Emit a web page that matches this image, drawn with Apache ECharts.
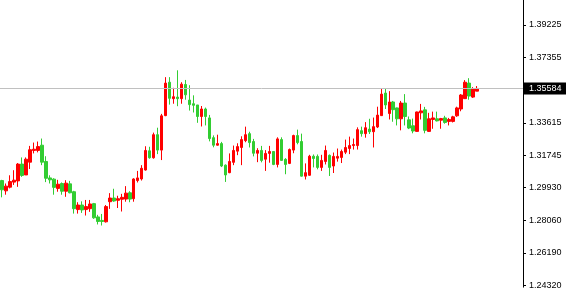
<!DOCTYPE html>
<html>
<head>
<meta charset="utf-8">
<script src="https://cdn.jsdelivr.net/npm/echarts@6/dist/echarts.min.js"></script>
<style>
html,body{margin:0;padding:0;background:#fff;}
#chart{width:566px;height:290px;}
</style>
</head>
<body>
<div id="chart"></div>
<script>
var opens = [1.3032,1.2973,1.2994,1.3023,1.3030,1.3126,1.3064,1.3137,1.3204,1.3204,
1.3234,1.3141,1.3047,1.3040,1.2987,1.3015,1.2971,1.3013,1.2968,1.2866,
1.2892,1.2866,1.2871,1.2900,1.2824,1.2804,1.2796,1.2911,1.2932,1.2919,
1.2925,1.2926,1.2962,1.2928,1.3032,1.3041,1.3092,1.3202,1.3162,1.3294,
1.3206,1.3403,1.3594,1.3500,1.3509,1.3500,1.3581,1.3492,1.3471,1.3464,
1.3398,1.3441,1.3390,1.3277,1.3234,1.3243,1.3120,1.3077,1.3136,1.3200,
1.3221,1.3260,1.3300,1.3255,1.3188,1.3204,1.3154,1.3187,1.3198,1.3124,
1.3266,1.3153,1.3130,1.3206,1.3289,1.3255,1.3057,1.3062,1.3171,1.3170,
1.3107,1.3141,1.3176,1.3115,1.3160,1.3164,1.3194,1.3215,1.3232,1.3232,
1.3317,1.3300,1.3326,1.3311,1.3338,1.3403,1.3532,1.3415,1.3481,1.3447,
1.3385,1.3475,1.3379,1.3345,1.3313,1.3419,1.3436,1.3313,1.3381,1.3385,
1.3377,1.3390,1.3370,1.3370,1.3402,1.3441,1.3500,1.3589,1.3509,1.3543];
var closes = [1.2979,1.3000,1.3026,1.3034,1.3126,1.3061,1.3154,1.3208,1.3211,1.3226,
1.3137,1.3045,1.3036,1.2993,1.3011,1.2971,1.3017,1.2962,1.2871,1.2892,
1.2864,1.2883,1.2898,1.2819,1.2798,1.2798,1.2883,1.2932,1.2915,1.2928,
1.2936,1.2960,1.2926,1.3041,1.3047,1.3102,1.3204,1.3162,1.3294,1.3206,
1.3402,1.3589,1.3502,1.3511,1.3500,1.3583,1.3522,1.3466,1.3462,1.3398,
1.3441,1.3398,1.3272,1.3234,1.3243,1.3115,1.3064,1.3141,1.3204,1.3226,
1.3266,1.3294,1.3249,1.3188,1.3204,1.3147,1.3187,1.3198,1.3124,1.3270,
1.3147,1.3124,1.3209,1.3289,1.3249,1.3057,1.3077,1.3171,1.3158,1.3107,
1.3147,1.3204,1.3107,1.3170,1.3170,1.3198,1.3221,1.3232,1.3238,1.3323,
1.3300,1.3334,1.3311,1.3340,1.3406,1.3526,1.3464,1.3481,1.3437,1.3385,
1.3475,1.3398,1.3332,1.3315,1.3424,1.3430,1.3319,1.3385,1.3390,1.3373,
1.3386,1.3364,1.3381,1.3396,1.3447,1.3521,1.3594,1.3515,1.3555,1.35584];
var lows = [1.2936,1.2951,1.2987,1.3007,1.2996,1.3053,1.3064,1.3098,1.3187,1.3193,
1.3120,1.3023,1.3015,1.2951,1.2968,1.2951,1.2939,1.2959,1.2843,1.2843,
1.2847,1.2832,1.2853,1.2813,1.2781,1.2775,1.2792,1.2870,1.2911,1.2875,
1.2855,1.2911,1.2908,1.2911,1.3021,1.3032,1.3089,1.3157,1.3157,1.3183,
1.3149,1.3400,1.3466,1.3471,1.3457,1.3471,1.3494,1.3432,1.3421,1.3362,
1.3341,1.3347,1.3256,1.3222,1.3232,1.3109,1.3024,1.3074,1.3120,1.3177,
1.3120,1.3251,1.3221,1.3170,1.3137,1.3136,1.3087,1.3134,1.3120,1.3107,
1.3145,1.3068,1.3126,1.3188,1.3239,1.3055,1.3038,1.3060,1.3107,1.3096,
1.3087,1.3124,1.3058,1.3075,1.3140,1.3132,1.3183,1.3183,1.3209,1.3209,
1.3283,1.3277,1.3298,1.3221,1.3332,1.3402,1.3441,1.3381,1.3368,1.3347,
1.3319,1.3347,1.3326,1.3302,1.3311,1.3381,1.3302,1.3310,1.3328,1.3370,
1.3328,1.3357,1.3347,1.3364,1.3396,1.3428,1.3498,1.3494,1.3504,1.3543];
var highs = [1.3036,1.3015,1.3062,1.3091,1.3132,1.3164,1.3164,1.3230,1.3249,1.3255,
1.3272,1.3171,1.3062,1.3045,1.3036,1.3021,1.3034,1.3030,1.2973,1.2908,
1.2913,1.2921,1.2921,1.2904,1.2836,1.2841,1.2892,1.2960,1.2985,1.2945,
1.2956,1.3000,1.2971,1.3045,1.3087,1.3120,1.3228,1.3225,1.3306,1.3334,
1.3413,1.3623,1.3623,1.3562,1.3662,1.3594,1.3607,1.3577,1.3519,1.3464,
1.3458,1.3449,1.3407,1.3290,1.3294,1.3253,1.3124,1.3187,1.3232,1.3245,
1.3285,1.3340,1.3311,1.3270,1.3217,1.3230,1.3206,1.3230,1.3200,1.3279,
1.3279,1.3160,1.3215,1.3294,1.3323,1.3300,1.3130,1.3179,1.3181,1.3181,
1.3179,1.3232,1.3181,1.3192,1.3215,1.3209,1.3266,1.3283,1.3272,1.3336,
1.3340,1.3366,1.3385,1.3392,1.3454,1.3555,1.3555,1.3543,1.3487,1.3449,
1.3487,1.3526,1.3398,1.3386,1.3426,1.3470,1.3453,1.3419,1.3426,1.3426,
1.3390,1.3402,1.3390,1.3402,1.3454,1.3526,1.3606,1.3617,1.3566,1.3572];
var tickValues = [1.24320,1.26190,1.28060,1.29930,1.31745,1.33615,1.37355,1.39225];
var currentPrice = 1.35584;
var slotCount = 131;
var yMin = 1.24226, yMax = 1.40640;

var categories = [];
for (var i = 0; i < slotCount; i++) categories.push(String(i + 1));
var ohlc = opens.map(function (o, i) { return [o, closes[i], lows[i], highs[i]]; });

var chart = echarts.init(document.getElementById('chart'), null, {renderer: 'canvas'});
chart.setOption({
  animation: false,
  backgroundColor: '#ffffff',
  grid: {left: -1, right: 43, top: 0, bottom: 0, containLabel: false},
  xAxis: {
    type: 'category', data: categories, boundaryGap: true, show: false
  },
  yAxis: {
    type: 'value', position: 'right', min: yMin, max: yMax, scale: true,
    splitLine: {show: false},
    axisLine: {show: true, onZero: false, lineStyle: {color: '#000', width: 1}},
    axisTick: {show: true, length: 3, customValues: tickValues, lineStyle: {color: '#000'}},
    axisLabel: {
      customValues: tickValues, margin: 6, color: '#000', fontSize: 9,
      fontFamily: 'Liberation Sans',
      formatter: function (v) { return v.toFixed(5); }
    }
  },
  series: [{
    type: 'candlestick',
    data: ohlc,
    barWidth: 3,
    itemStyle: {
      color: '#ff0000', color0: '#32cd32',
      borderColor: '#ff0000', borderColor0: '#32cd32', borderWidth: 1
    },
    markLine: {
      silent: true, symbol: ['none', 'none'], animation: false, precision: 5,
      lineStyle: {color: '#c0c0c0', type: 'solid', width: 1},
      label: {
        show: true, position: 'end', distance: 1,
        backgroundColor: '#000', color: '#fff', fontSize: 9,
        fontFamily: 'Liberation Sans', padding: [2, 6, 1, 5],
        formatter: function (p) { return Number(p.value).toFixed(5); }
      },
      data: [{yAxis: currentPrice}]
    }
  }]
});
</script>
</body>
</html>
